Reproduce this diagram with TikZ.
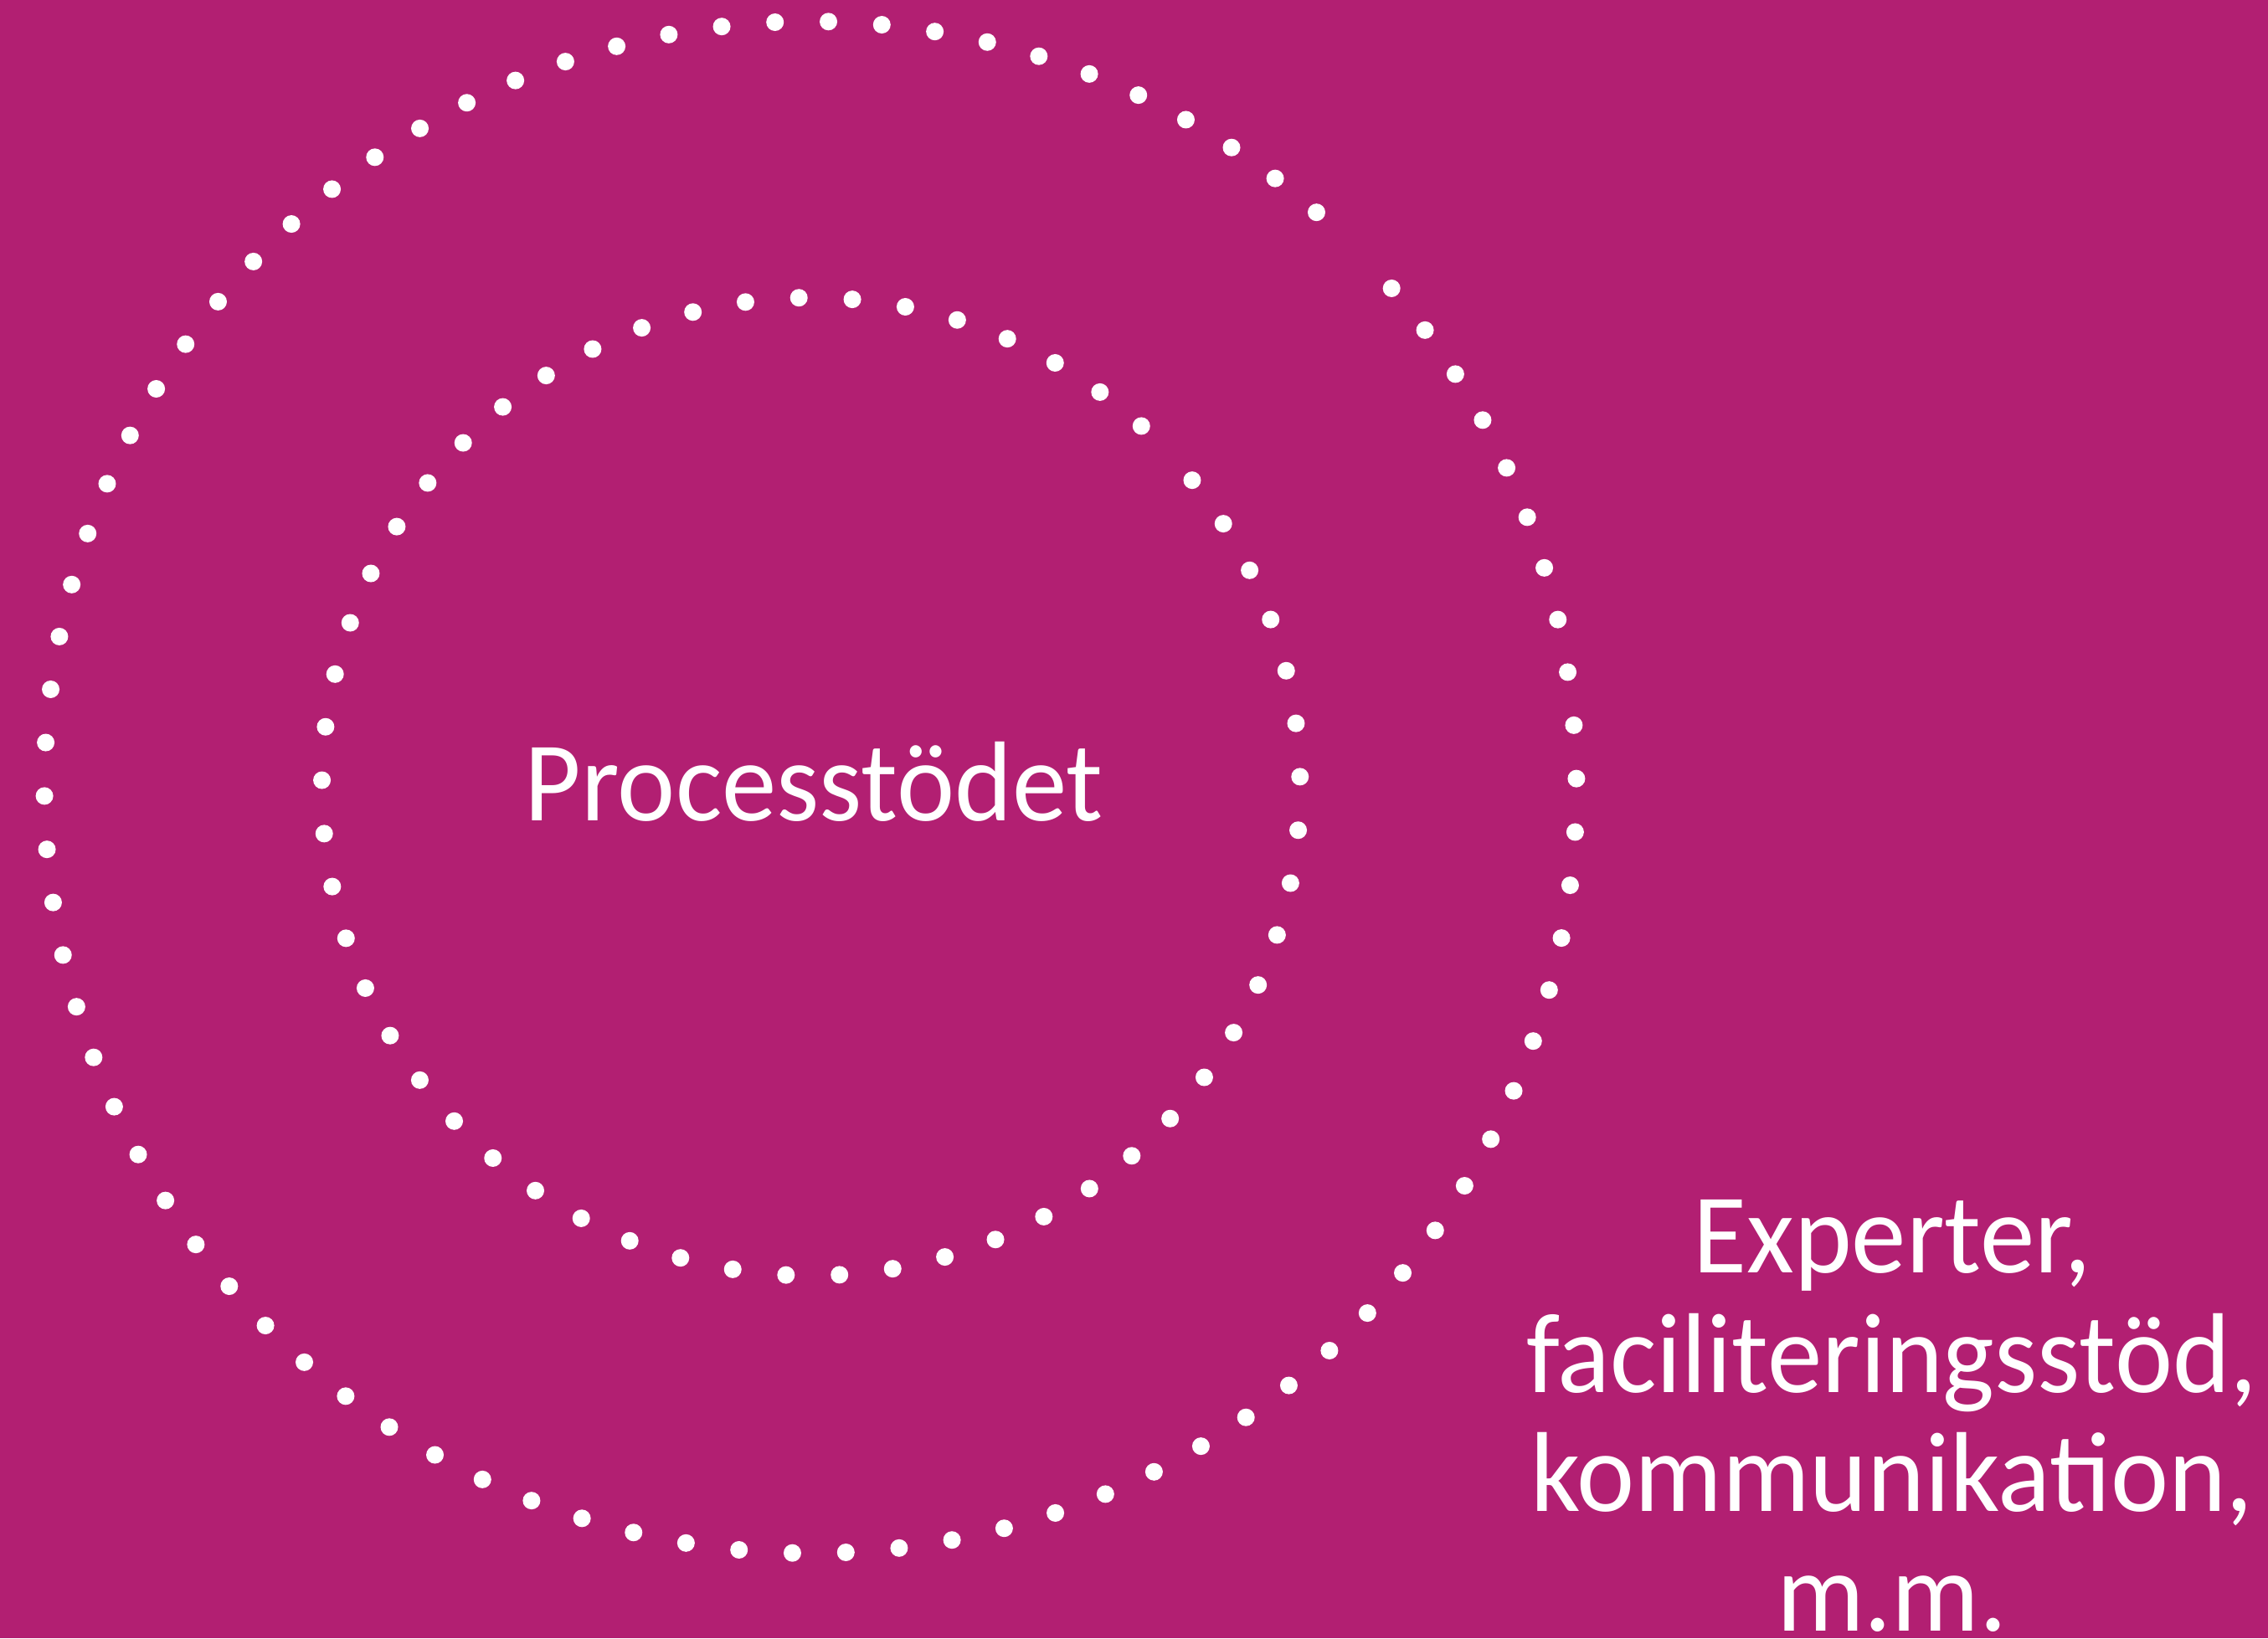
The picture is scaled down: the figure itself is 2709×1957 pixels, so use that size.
\documentclass[tikz,border=0pt]{standalone}
\usepackage{fontspec}
\setmainfont[FakeStretch=0.965]{Carlito}
\definecolor{bgmag}{RGB}{178,31,114}
\begin{document}
\begin{tikzpicture}[x=0.01cm,y=-0.01cm,
  dotmark/.style={fill=white,draw=none},
  bigtext/.style={text=white,font=\fontsize{38.6}{40.5}\selectfont,inner sep=0pt}]
\fill[bgmag] (0,0) rectangle (2709,1957);
\useasboundingbox (0,0) rectangle (2709,1957);
% outer dotted circle
\foreach \k in {0,...,89}{
  \ifnum\k=11\relax\else
  \pgfmathsetmacro{\t}{1.35+4*\k}
  \fill[dotmark] ({968+915*sin(\t)},{940.5-915*cos(\t)}) circle[radius=10.5];
  \fi
}
% inner dotted circle
\foreach \k in {0,...,56}{
  \pgfmathsetmacro{\t}{51.2+6.273*\k}
  \fill[dotmark] ({968.7+584.2*sin(\t)},{939.7-584.2*cos(\t)}) circle[radius=10.5];
}
\node[bigtext,anchor=base] (proc) at (972,980) {Processtödet};
\node[bigtext,anchor=base,align=center] (exp) at (2260,1948) {Experter,\\faciliteringsstöd,\\kommunikation,\\m.m.};
\end{tikzpicture}
\end{document}
